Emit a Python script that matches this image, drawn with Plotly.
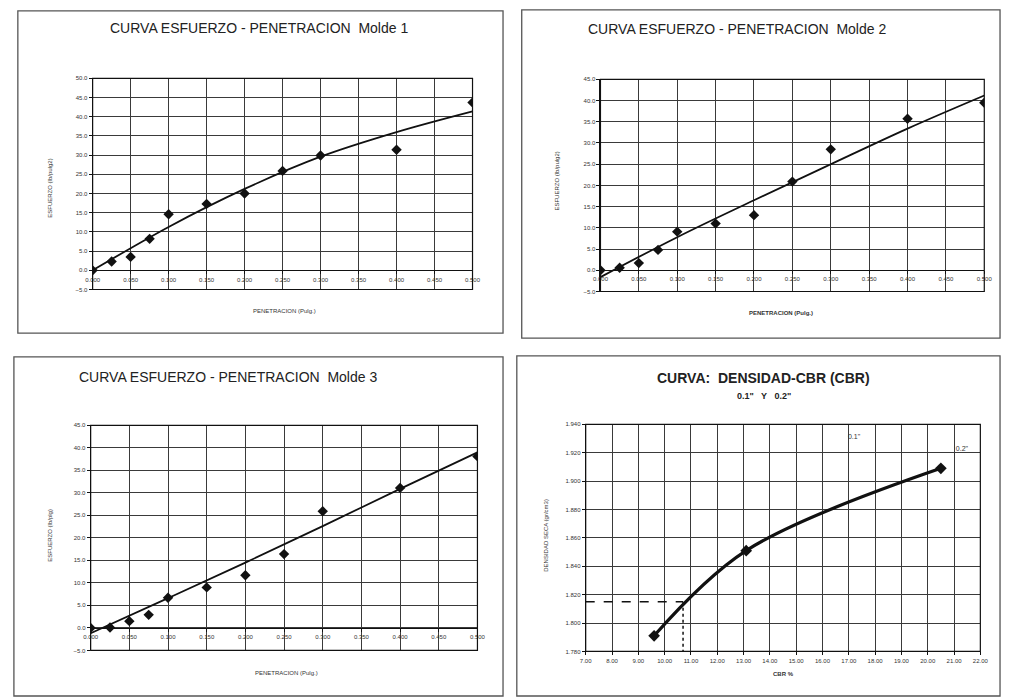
import plotly.graph_objects as go

# ---------------- data ----------------
pen = [0.000, 0.025, 0.050, 0.075, 0.100, 0.150, 0.200, 0.250, 0.300, 0.400, 0.500]
esf1 = [0.0, 2.3, 3.5, 8.2, 14.6, 17.3, 20.0, 25.9, 29.9, 31.4, 43.7]
esf2 = [0.0, 0.6, 1.7, 4.8, 9.1, 11.0, 13.0, 20.9, 28.5, 35.7, 39.5]
esf3 = [0.0, 0.1, 1.5, 2.9, 6.7, 9.0, 11.7, 16.4, 25.9, 31.1, 38.1]

trend_x = [0.0, 0.1, 0.2, 0.3, 0.4, 0.5]
trend1 = [0.0, 11.3, 21.2, 29.6, 36.0, 41.4]
trend2 = [-1.6, 7.8, 16.5, 25.0, 33.4, 41.2]
trend3 = [-1.2, 6.6, 14.5, 22.6, 30.9, 39.0]

cbr = [9.6, 13.1, 20.5]
dens = [1.791, 1.851, 1.909]
cbr_design = 10.7
dens_design = 1.815

titles = ["CURVA ESFUERZO - PENETRACION  Molde 1",
          "CURVA ESFUERZO - PENETRACION  Molde 2",
          "CURVA ESFUERZO - PENETRACION  Molde 3",
          "CURVA:  DENSIDAD-CBR (CBR)"]
subtitle4 = "0.1\"   Y   0.2\""
ytitles = ["ESFUERZO (lb/pulg2)", "ESFUERZO (lb/pulg2)", "ESFUERZO (lb/plg)", "DENSIDAD SECA (gr/cm3)"]
xtitles = ["PENETRACION (Pulg.)", "PENETRACION (Pulg.)", "PENETRACION (Pulg.)", "CBR %"]
curve_labels = ["0.1\"", "0.2\""]
curve_label_x = [17.2, 21.3]
curve_label_y = [1.931, 1.9225]

# ---------------- layout helpers ----------------
W, H = 1010, 700
FONT = "Liberation Sans, Arial, sans-serif"
GRID = "#3a3a3a"
INK = "#111111"
TICK_FONT = dict(size=6, family=FONT, color="#333")


def px(x):
    return x / W


def py(y):
    return 1 - y / H


# plot areas in pixels (x0, x1, ytop, ybottom)
areas = [(86, 472, 76, 289), (602, 992, 77, 291), (84, 477, 426, 653), (587, 988, 425, 654)]
yranges = [(-5, 50), (-5, 45), (-5, 45), (1.780, 1.940)]

fig = go.Figure()
layout = dict(width=W, height=H, margin=dict(l=0, r=0, t=0, b=0),
              paper_bgcolor="white", plot_bgcolor="white", showlegend=False,
              font=dict(family=FONT, color=INK))
shapes = []
annotations = []

common = dict(showgrid=True, gridcolor=GRID, gridwidth=1.1,
              showline=True, linecolor=INK, linewidth=1,
              ticks="outside", ticklen=3, tickcolor=INK,
              tickfont=TICK_FONT, zeroline=False)

for i, (x0, x1, yt, yb) in enumerate(areas):
    n = "" if i == 0 else str(i + 1)
    xd = [px(x0), px(x1)]
    yd = [py(yb), py(yt)]
    ymin, ymax = yranges[i]
    if i < 3:
        zero_pos = yd[0] + (0 - ymin) / (ymax - ymin) * (yd[1] - yd[0])
        layout["xaxis" + n] = dict(domain=xd, range=[0, 0.5], dtick=0.05, tick0=0,
                                   tickformat=".3f", anchor="free", position=zero_pos, **common)
        layout["yaxis" + n] = dict(domain=yd, range=[ymin, ymax], dtick=5, tick0=0,
                                   tickformat=".1f", anchor="x" + n, **common)
    else:
        layout["xaxis" + n] = dict(domain=xd, range=[7, 22], dtick=1, tick0=7,
                                   tickformat=".2f", anchor="y" + n, **common)
        layout["yaxis" + n] = dict(domain=yd, range=[ymin, ymax], dtick=0.02, tick0=1.78,
                                   tickformat=".3f", anchor="x" + n, **common)
    shapes.append(dict(type="rect", xref="x" + n + " domain", yref="y" + n + " domain",
                       x0=0, x1=1, y0=0, y1=1, line=dict(color=INK, width=1.2)))

# panel borders
panels = [(10, 503, 8, 333), (522, 1008, 7, 338), (6, 503, 357, 699), (517, 1008, 356, 699)]
for (a, b, c, d) in panels:
    shapes.append(dict(type="rect", xref="paper", yref="paper",
                       x0=px(a), x1=px(b), y0=py(d), y1=py(c),
                       line=dict(color="#555", width=1.3)))

# ---------------- traces ----------------
series = [esf1, esf2, esf3]
trends = [trend1, trend2, trend3]
for i in range(3):
    n = "" if i == 0 else str(i + 1)
    fig.add_trace(go.Scatter(x=trend_x, y=trends[i], mode="lines",
                             line=dict(color=INK, width=1.8, shape="spline"),
                             xaxis="x" + n, yaxis="y" + n, hoverinfo="skip"))
    fig.add_trace(go.Scatter(x=pen, y=series[i], mode="markers",
                             marker=dict(symbol="diamond", size=8, color=INK),
                             xaxis="x" + n, yaxis="y" + n))

# panel 4
fig.add_trace(go.Scatter(x=[7, cbr_design], y=[dens_design, dens_design], mode="lines",
                         line=dict(color=INK, width=1.5, dash="dash"), xaxis="x4", yaxis="y4"))
fig.add_trace(go.Scatter(x=[cbr_design, cbr_design], y=[dens_design, 1.780], mode="lines",
                         line=dict(color=INK, width=1.5, dash="dot"), xaxis="x4", yaxis="y4"))
fig.add_trace(go.Scatter(x=cbr, y=dens, mode="lines+markers",
                         line=dict(color=INK, width=3.2, shape="spline", smoothing=1.0),
                         marker=dict(symbol="diamond", size=9, color=INK),
                         xaxis="x4", yaxis="y4"))
fig.add_trace(go.Scatter(x=curve_label_x, y=curve_label_y, mode="text", text=curve_labels,
                         textfont=dict(size=7, family=FONT, color="#333"),
                         xaxis="x4", yaxis="y4"))

# ---------------- text ----------------
title_pos = [(255, 25, "center"), (587, 26, "left"), (70, 377, "left"), (768, 378, "center")]
for i, (tx, ty, al) in enumerate(title_pos):
    txt = "<b>" + titles[i] + "</b>" if i == 3 else titles[i]
    annotations.append(dict(text=txt, x=px(tx), y=py(ty), xref="paper", yref="paper",
                            xanchor=al, yanchor="middle", showarrow=False,
                            font=dict(size=14, family=FONT, color="#222")))
annotations.append(dict(text="<b>" + subtitle4 + "</b>", x=px(768), y=py(396), xref="paper", yref="paper",
                        xanchor="center", yanchor="middle", showarrow=False,
                        font=dict(size=9, family=FONT, color="#222")))

ytitle_pos = [(43, 187), (558, 180), (43, 537), (547, 537)]
for i, (tx, ty) in enumerate(ytitle_pos):
    annotations.append(dict(text=ytitles[i], x=px(tx), y=py(ty), xref="paper", yref="paper",
                            xanchor="center", yanchor="middle", showarrow=False, textangle=-90,
                            font=dict(size=6, family=FONT, color="#333")))
xtitle_pos = [(281, 311), (785, 313), (283, 676), (788, 677)]
for i, (tx, ty) in enumerate(xtitle_pos):
    txt = "<b>" + xtitles[i] + "</b>" if i in (1, 3) else xtitles[i]
    annotations.append(dict(text=txt, x=px(tx), y=py(ty), xref="paper", yref="paper",
                            xanchor="center", yanchor="middle", showarrow=False,
                            font=dict(size=6, family=FONT, color="#333")))

layout["shapes"] = shapes
layout["annotations"] = annotations
fig.update_layout(**layout)
fig.write_html("out.html", config={"displayModeBar": False})

# remove the browser's default body margin so the figure sits at the page origin
with open("out.html", "r", encoding="utf-8") as f:
    html = f.read()
html = html.replace("<head>", "<head><style>html,body{margin:0;padding:0;overflow:hidden;}</style>", 1)
with open("out.html", "w", encoding="utf-8") as f:
    f.write(html)
